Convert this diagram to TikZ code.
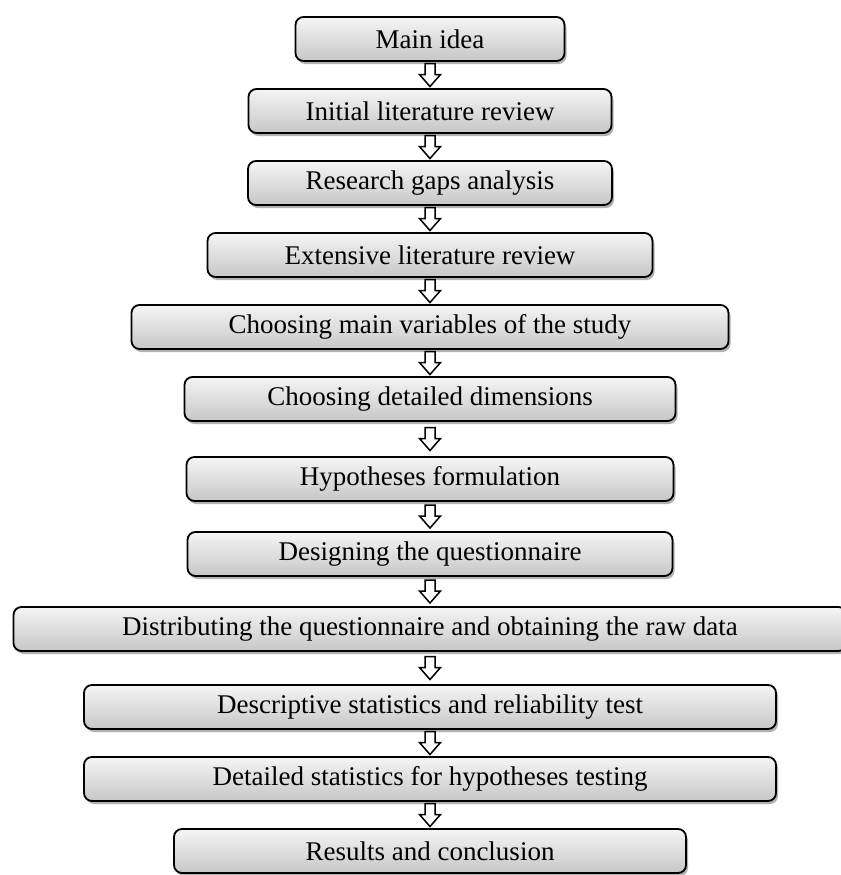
\documentclass[tikz,border=0pt]{standalone}
\usepackage{fontspec}
\setmainfont{Liberation Serif}
\usepackage{tikz}
\usetikzlibrary{positioning, calc, shadows}

\newcommand{\flowarrow}[2]{%
  \draw[hollowarrow] ($(#1.south)!0.5!(#2.north)$) ++(-2.5pt,5.75pt) -- ++(5pt,0) -- ++(0,-5.5pt)
    -- ++(2.75pt,0) -- ++(-5.25pt,-6pt) -- ++(-5.25pt,6pt) -- ++(2.75pt,0) -- cycle;}

\begin{document}
\begin{tikzpicture}[
    node distance=14pt,
    box/.style={rectangle, rounded corners=4pt, draw, line width=0.9pt, outer sep=0pt, top color=black!4, bottom color=black!22,
      minimum height=22pt, inner sep=2pt, align=center, font=\fontsize{13.5}{16}\selectfont,
      drop shadow={shadow xshift=1pt, shadow yshift=-1.5pt, opacity=0.3, fill=black}},
    hollowarrow/.style={draw, fill=white, line width=0.75pt, line join=miter}
]
\useasboundingbox (0,0) rectangle (420.5pt,-437.5pt);

\node[box, minimum width=134.5pt] (idea) at (215pt,-19.5pt) {Main idea};
\node[box, minimum width=181.5pt, below=of idea] (initial) {Initial literature review};
\node[box, minimum width=182pt, below=of initial] (gaps) {Research gaps analysis};
\node[box, minimum width=222.5pt, below=of gaps] (extensive) {Extensive literature review};
\node[box, minimum width=298.5pt, below=of extensive] (variables) {Choosing main variables of the study};
\node[box, minimum width=245.5pt, below=of variables] (dimensions) {Choosing detailed dimensions};
\node[box, minimum width=243.5pt, below=18pt of dimensions] (hypotheses) {Hypotheses formulation};
\node[box, minimum width=242.5pt, below=15.5pt of hypotheses] (design) {Designing the questionnaire};
\node[box, minimum width=416.5pt, below=15.5pt of design] (distribute) {Distributing the questionnaire and obtaining the raw data};
\node[box, minimum width=346pt, below=17pt of distribute] (descriptive) {Descriptive statistics and reliability test};
\node[box, minimum width=346pt, below=of descriptive] (testing) {Detailed statistics for hypotheses testing};
\node[box, minimum width=256pt, below=of testing] (results) {Results and conclusion};

% Arrows between steps
\flowarrow{idea}{initial}
\flowarrow{initial}{gaps}
\flowarrow{gaps}{extensive}
\flowarrow{extensive}{variables}
\flowarrow{variables}{dimensions}
\flowarrow{dimensions}{hypotheses}
\flowarrow{hypotheses}{design}
\flowarrow{design}{distribute}
\flowarrow{distribute}{descriptive}
\flowarrow{descriptive}{testing}
\flowarrow{testing}{results}

\end{tikzpicture}
\end{document}
